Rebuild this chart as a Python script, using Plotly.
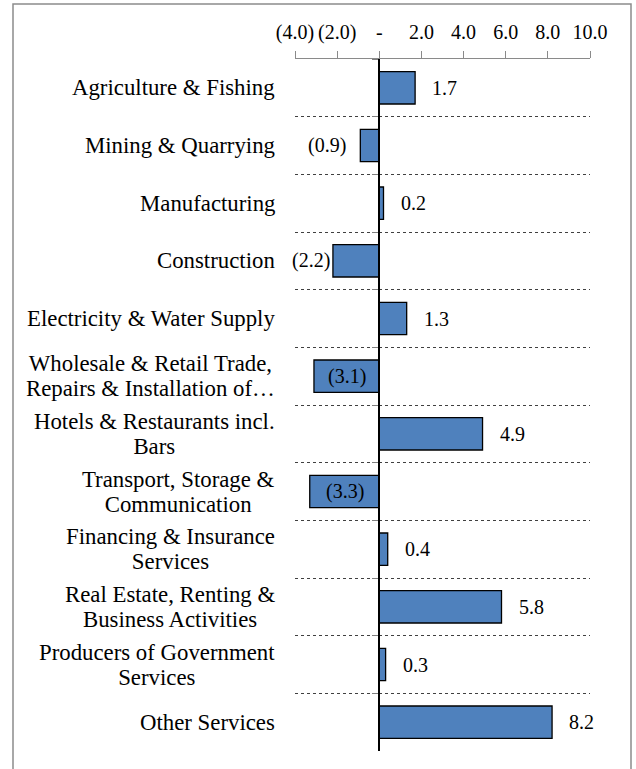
import plotly.graph_objects as go

# ---- data ----
categories = [
    "Agriculture & Fishing",
    "Mining & Quarrying",
    "Manufacturing",
    "Construction",
    "Electricity & Water Supply",
    "Wholesale & Retail Trade, Repairs & Installation of…",
    "Hotels & Restaurants incl. Bars",
    "Transport, Storage & Communication",
    "Financing & Insurance Services",
    "Real Estate, Renting & Business Activities",
    "Producers of Government Services",
    "Other Services",
]
category_lines = [
    ["Agriculture & Fishing"],
    ["Mining & Quarrying"],
    ["Manufacturing"],
    ["Construction"],
    ["Electricity & Water Supply"],
    ["Wholesale & Retail Trade,", "Repairs & Installation of…"],
    ["Hotels & Restaurants incl.", "Bars"],
    ["Transport, Storage &", "Communication"],
    ["Financing & Insurance", "Services"],
    ["Real Estate, Renting &", "Business Activities"],
    ["Producers of Government", "Services"],
    ["Other Services"],
]
values = [1.7, -0.9, 0.2, -2.2, 1.3, -3.1, 4.9, -3.3, 0.4, 5.8, 0.3, 8.2]

x_tick_vals = [-4, -2, 0, 2, 4, 6, 8, 10]
x_tick_text = ["(4.0)", "(2.0)", "-", "2.0", "4.0", "6.0", "8.0", "10.0"]

# ---- styling ----
FONT = "Liberation Serif"
BAR_COLOR = "#4F81BD"
XMIN, XMAX = -4, 10
LABEL_PX = 22.8      # glyph size of category labels
SPACING_PX = 19.6    # base size that sets line spacing (1.3 x)


def fmt(v):
    return f"{v:.1f}" if v >= 0 else f"({abs(v):.1f})"


fig = go.Figure()
fig.add_trace(go.Bar(
    x=values,
    y=categories,
    orientation="h",
    marker=dict(color=BAR_COLOR, line=dict(color="black", width=1.3)),
    hoverinfo="skip",
))

annotations = []
# category labels (centered multi-line, right edge left of plot)
for cat, lines in zip(categories, category_lines):
    txt = "<br>".join(
        f"<span style='font-size:{LABEL_PX}px'>{ln}</span>" for ln in lines)
    annotations.append(dict(
        xref="paper", yref="y", x=0, y=cat, xanchor="right", yanchor="middle",
        xshift=-18, text=txt, align="center", showarrow=False,
        font=dict(family=FONT, size=SPACING_PX, color="black"),
    ))

# value labels
label_w = 1.75   # approx label width in axis units
gap = 0.57       # gap between bar end and label in axis units
for cat, v in zip(categories, values):
    if v >= 0:
        a = dict(x=v, xanchor="left", xshift=15)
    elif v - label_w >= XMIN - 0.6:
        a = dict(x=max(v - gap, XMIN + label_w), xanchor="right")
    else:
        a = dict(x=v / 2, xanchor="center")
    a.update(xref="x", yref="y", y=cat, yanchor="middle", text=fmt(v),
             showarrow=False, font=dict(family=FONT, size=20, color="black"))
    annotations.append(a)

fig.update_layout(
    width=636, height=769,
    margin=dict(l=295, r=46, t=59, b=18),
    paper_bgcolor="white", plot_bgcolor="white",
    showlegend=False,
    bargap=0.44,
    font=dict(family=FONT, size=20, color="black"),
    annotations=annotations,
    xaxis=dict(
        side="top", range=[XMIN, XMAX],
        tickvals=x_tick_vals, ticktext=x_tick_text,
        showline=True, linecolor="#8a8a8a", linewidth=1,
        ticks="outside", ticklen=7, tickcolor="#8a8a8a", tickwidth=1,
        ticklabelstandoff=4,
        showgrid=False, zeroline=False, fixedrange=True,
        tickfont=dict(family=FONT, size=20, color="black"),
    ),
    yaxis=dict(
        type="category", autorange="reversed",
        anchor="free", position=(0 - XMIN) / (XMAX - XMIN),
        showline=True, linecolor="black", linewidth=2,
        ticks="outside", tickson="boundaries", ticklen=6,
        tickcolor="#7f7f7f", tickwidth=1,
        showticklabels=False,
        showgrid=True, gridcolor="#404040", gridwidth=1, griddash="dot",
        zeroline=False, fixedrange=True,
    ),
    shapes=[dict(
        type="rect", xref="paper", yref="paper",
        x0=-(295 - 13) / 295, x1=1 + (631 - 590) / 295,
        y0=-0.06, y1=1 + (59 - 4) / 692,
        line=dict(color="#8c8c8c", width=1.5), fillcolor="rgba(0,0,0,0)",
        layer="below",
    )],
)

fig.write_html(
    "out.html",
    config={"displayModeBar": False, "staticPlot": True},
    post_script="document.body.style.margin='0';document.body.style.overflow='hidden';",
)
